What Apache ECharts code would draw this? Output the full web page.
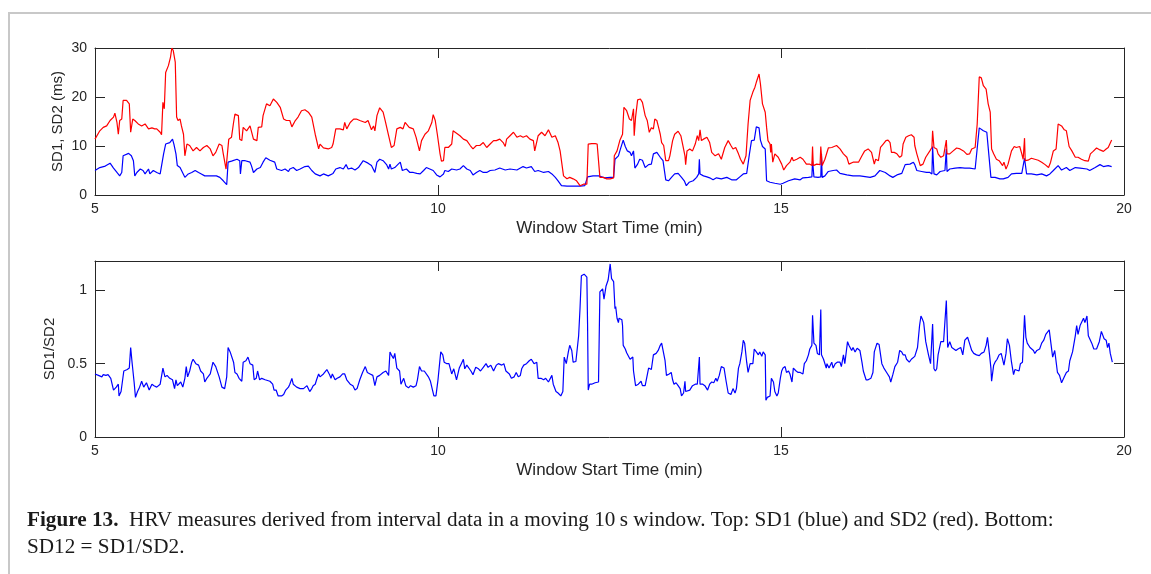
<!DOCTYPE html>
<html>
<head>
<meta charset="utf-8">
<script src="https://cdn.jsdelivr.net/npm/echarts@6/dist/echarts.min.js"></script>
<style>
  html, body { margin: 0; padding: 0; background: #fff; }
  #chart { width: 1151px; height: 574px; }
</style>
</head>
<body>
<div id="chart"></div>
<script>
// tick positions
const xTicks = [5, 10, 15, 20];
const topTicks = [0, 10, 20, 30];
const bottomTicks = [0, 0.5, 1];

// SD2 (red), ms, [minute, value]
const sd2 = [
  [5.00,11.4],[5.07,13.1],[5.12,13.8],[5.17,14.1],[5.22,15.2],[5.27,15.9],[5.29,16.7],[5.32,14.8],[5.34,12.4],[5.36,15.2],
  [5.39,15.5],[5.41,19.3],[5.46,19.3],[5.50,18.6],[5.52,12.8],[5.55,15.5],[5.58,15.2],[5.63,14.5],[5.68,14.1],[5.73,14.5],
  [5.78,13.5],[5.83,13.7],[5.87,13.5],[5.90,13.5],[5.95,12.8],[5.97,12.3],[5.99,18.9],[6.01,17.6],[6.03,25.0],[6.05,25.0],
  [6.07,26.4],[6.10,28.1],[6.12,30.0],[6.14,29.5],[6.17,27.1],[6.19,15.9],[6.21,15.2],[6.24,15.5],[6.26,14.1],[6.29,12.4],
  [6.31,8.0],[6.34,10.4],[6.38,10.1],[6.43,9.0],[6.48,9.7],[6.53,9.0],[6.58,9.7],[6.63,10.1],[6.68,9.4],[6.72,8.0],
  [6.76,8.7],[6.81,10.4],[6.85,10.1],[6.87,8.4],[6.91,5.3],[6.93,5.3],[6.95,11.4],[6.99,11.8],[7.02,14.8],[7.04,16.5],
  [7.09,16.2],[7.11,11.4],[7.14,11.1],[7.16,13.8],[7.21,13.1],[7.26,14.1],[7.31,11.4],[7.36,11.1],[7.38,13.8],[7.43,13.9],
  [7.45,16.2],[7.50,18.6],[7.55,18.2],[7.60,19.6],[7.65,18.9],[7.70,17.9],[7.75,15.5],[7.79,15.2],[7.84,15.2],[7.87,13.9],
  [7.92,15.2],[7.96,15.9],[8.01,17.2],[8.06,17.4],[8.11,16.9],[8.16,15.9],[8.21,12.4],[8.26,9.4],[8.28,10.4],[8.33,9.6],
  [8.40,9.4],[8.45,9.7],[8.47,10.4],[8.51,13.5],[8.57,13.5],[8.62,13.3],[8.64,14.8],[8.67,13.5],[8.72,14.8],[8.77,15.5],
  [8.81,15.5],[8.86,15.2],[8.94,14.8],[8.98,15.2],[9.03,13.3],[9.06,14.1],[9.08,13.1],[9.11,16.2],[9.15,17.8],[9.20,16.9],
  [9.23,15.2],[9.28,12.1],[9.32,9.7],[9.36,10.1],[9.40,13.5],[9.45,13.8],[9.49,13.5],[9.52,14.8],[9.54,15.2],[9.58,13.8],
  [9.64,13.5],[9.68,11.8],[9.73,9.0],[9.76,11.1],[9.81,12.4],[9.86,13.1],[9.91,14.8],[9.93,16.4],[9.96,15.2],[9.99,12.4],
  [10.03,8.4],[10.05,6.9],[10.08,7.0],[10.10,9.7],[10.15,9.7],[10.20,10.4],[10.22,13.1],[10.25,12.8],[10.27,13.1],[10.32,12.1],
  [10.37,11.4],[10.42,11.1],[10.47,10.1],[10.51,9.4],[10.56,10.1],[10.61,10.1],[10.66,10.7],[10.71,9.7],[10.76,10.4],[10.81,11.1],
  [10.85,11.1],[10.90,11.4],[10.95,10.7],[10.98,9.9],[11.00,11.4],[11.05,12.1],[11.10,12.8],[11.15,11.8],[11.20,12.1],[11.24,11.8],
  [11.29,12.1],[11.34,11.4],[11.39,11.1],[11.41,9.0],[11.46,12.1],[11.51,12.8],[11.56,12.1],[11.61,13.3],[11.66,11.8],[11.71,12.1],
  [11.75,10.7],[11.78,9.0],[11.83,3.9],[11.88,3.3],[11.92,3.6],[11.97,3.3],[12.02,2.9],[12.07,1.9],[12.12,2.2],[12.17,2.2],
  [12.19,10.4],[12.24,10.5],[12.29,10.5],[12.32,10.4],[12.36,3.6],[12.41,3.6],[12.46,3.3],[12.51,3.3],[12.56,3.5],[12.57,8.0],
  [12.59,8.0],[12.61,9.0],[12.65,11.1],[12.69,12.4],[12.71,17.9],[12.75,17.2],[12.79,15.5],[12.82,15.2],[12.85,17.6],[12.86,12.1],
  [12.88,15.9],[12.91,19.4],[12.95,19.6],[12.98,18.9],[13.02,16.2],[13.05,15.2],[13.08,12.8],[13.11,13.7],[13.14,13.5],[13.16,15.5],
  [13.19,15.2],[13.21,14.1],[13.24,12.4],[13.26,10.7],[13.29,10.1],[13.32,7.0],[13.36,7.0],[13.38,8.0],[13.42,11.1],[13.45,12.4],
  [13.50,13.0],[13.54,12.1],[13.57,10.1],[13.60,8.0],[13.61,6.2],[13.63,9.0],[13.67,9.4],[13.71,9.0],[13.75,10.4],[13.78,12.1],
  [13.80,11.1],[13.82,13.3],[13.84,11.1],[13.87,11.4],[13.92,11.8],[13.96,10.7],[13.99,8.7],[14.04,8.0],[14.09,8.4],[14.13,7.3],
  [14.18,9.7],[14.23,11.1],[14.27,10.1],[14.30,9.4],[14.34,9.7],[14.38,8.4],[14.41,7.3],[14.45,6.3],[14.49,8.0],[14.52,14.5],
  [14.55,19.3],[14.59,21.0],[14.62,22.0],[14.64,23.0],[14.68,24.7],[14.70,22.7],[14.73,18.6],[14.77,16.9],[14.79,13.8],[14.81,11.1],
  [14.84,10.4],[14.85,8.7],[14.86,10.4],[14.88,6.7],[14.91,8.4],[14.96,7.7],[15.01,6.3],[15.04,5.1],[15.08,6.0],[15.13,6.7],
  [15.16,7.7],[15.18,7.0],[15.23,7.3],[15.28,7.7],[15.32,7.3],[15.37,6.3],[15.42,6.3],[15.45,6.0],[15.46,9.9],[15.47,6.0],
  [15.52,6.3],[15.57,6.2],[15.58,9.9],[15.60,6.0],[15.64,7.3],[15.69,9.6],[15.74,9.7],[15.81,10.1],[15.86,9.4],[15.91,8.4],
  [15.96,7.7],[15.99,6.3],[16.05,6.7],[16.13,6.7],[16.18,8.0],[16.22,9.0],[16.27,9.4],[16.32,8.7],[16.36,6.3],[16.38,7.3],
  [16.42,7.0],[16.45,9.7],[16.49,10.4],[16.53,11.1],[16.56,11.2],[16.59,10.7],[16.61,8.7],[16.65,8.7],[16.69,8.4],[16.73,7.7],
  [16.76,8.0],[16.78,10.4],[16.82,11.8],[16.86,12.1],[16.90,12.3],[16.94,11.8],[16.95,10.1],[16.98,8.4],[17.03,6.0],[17.07,6.3],
  [17.11,7.7],[17.17,9.0],[17.20,9.7],[17.21,13.1],[17.23,9.7],[17.27,9.4],[17.29,8.4],[17.33,7.7],[17.37,8.0],[17.39,8.4],
  [17.41,11.2],[17.42,8.4],[17.46,8.4],[17.51,9.0],[17.56,9.6],[17.61,9.4],[17.66,9.0],[17.71,8.3],[17.75,8.4],[17.78,9.4],
  [17.83,9.7],[17.86,14.5],[17.89,24.1],[17.92,23.9],[17.95,22.3],[17.99,21.6],[18.02,18.6],[18.05,16.9],[18.07,9.4],[18.10,8.4],
  [18.14,7.3],[18.18,7.0],[18.23,6.0],[18.25,6.7],[18.28,5.3],[18.31,6.3],[18.36,9.0],[18.40,9.9],[18.43,9.7],[18.48,9.9],
  [18.51,8.4],[18.53,7.3],[18.55,11.6],[18.56,7.0],[18.60,7.1],[18.65,7.5],[18.70,7.3],[18.75,7.1],[18.80,6.7],[18.85,6.2],
  [18.90,5.6],[18.93,6.7],[18.97,9.0],[19.01,9.4],[19.04,14.5],[19.09,14.1],[19.13,13.3],[19.16,13.1],[19.20,9.9],[19.24,9.0],
  [19.29,7.7],[19.33,7.7],[19.38,7.3],[19.43,7.0],[19.48,6.9],[19.51,8.4],[19.55,8.9],[19.60,9.6],[19.65,9.2],[19.70,8.9],
  [19.74,9.4],[19.77,9.7],[19.82,11.2]
];

// SD1 (blue), ms, [minute, value]
const sd1 = [
  [5.00,5.0],[5.07,5.6],[5.15,5.9],[5.22,6.5],[5.27,5.5],[5.32,4.6],[5.36,3.9],[5.39,4.6],[5.41,8.0],[5.49,8.5],
  [5.53,8.0],[5.56,7.0],[5.58,3.9],[5.61,4.6],[5.66,5.3],[5.70,5.0],[5.73,4.3],[5.78,5.3],[5.80,4.3],[5.85,5.0],
  [5.90,4.6],[5.95,4.3],[5.97,4.3],[6.00,8.4],[6.02,8.4],[6.03,10.4],[6.09,10.7],[6.13,11.4],[6.15,10.4],[6.18,8.4],
  [6.20,6.0],[6.24,5.6],[6.26,5.3],[6.31,3.6],[6.36,4.3],[6.41,4.6],[6.46,5.0],[6.51,4.6],[6.55,4.3],[6.60,3.9],
  [6.65,3.9],[6.70,3.9],[6.77,3.9],[6.82,3.6],[6.87,2.9],[6.92,2.1],[6.94,6.7],[6.99,6.9],[7.07,7.3],[7.11,7.0],
  [7.12,4.3],[7.14,7.0],[7.19,7.0],[7.26,6.7],[7.28,6.0],[7.31,4.6],[7.36,5.3],[7.41,5.6],[7.45,6.7],[7.49,7.6],
  [7.55,7.1],[7.62,6.7],[7.65,5.3],[7.72,5.0],[7.77,5.3],[7.82,4.8],[7.84,5.3],[7.89,5.6],[7.94,5.0],[7.99,5.3],
  [8.06,5.8],[8.11,5.9],[8.16,5.0],[8.21,4.3],[8.28,3.9],[8.33,4.3],[8.40,3.9],[8.47,4.4],[8.51,5.3],[8.57,5.6],
  [8.62,5.3],[8.66,6.2],[8.69,5.3],[8.74,5.5],[8.79,5.1],[8.84,5.6],[8.91,7.0],[8.98,6.5],[9.03,6.0],[9.08,4.6],
  [9.11,6.7],[9.15,7.3],[9.20,7.0],[9.25,6.2],[9.28,5.3],[9.30,6.3],[9.32,5.3],[9.37,5.6],[9.42,6.3],[9.45,6.7],
  [9.48,5.0],[9.54,5.3],[9.59,4.6],[9.64,4.6],[9.69,4.4],[9.74,4.3],[9.79,5.0],[9.83,5.6],[9.88,5.3],[9.93,5.0],
  [9.98,4.1],[10.03,3.7],[10.08,4.3],[10.10,5.0],[10.15,4.8],[10.20,5.3],[10.22,5.6],[10.27,5.1],[10.32,5.3],[10.37,6.0],
  [10.42,5.3],[10.47,5.0],[10.51,4.1],[10.56,4.6],[10.61,5.0],[10.66,4.6],[10.71,4.6],[10.76,5.0],[10.83,5.1],[10.90,5.5],
  [10.98,5.1],[11.05,5.3],[11.15,5.1],[11.24,5.8],[11.29,5.5],[11.36,5.8],[11.41,4.8],[11.46,5.0],[11.54,4.6],[11.61,4.8],
  [11.66,4.3],[11.71,3.6],[11.75,2.9],[11.80,1.9],[11.88,1.8],[11.97,1.8],[12.07,1.8],[12.14,1.9],[12.18,3.7],[12.26,3.9],
  [12.34,3.9],[12.36,3.6],[12.43,3.5],[12.51,3.6],[12.56,3.6],[12.58,7.3],[12.63,8.0],[12.66,9.4],[12.70,11.2],[12.73,9.9],
  [12.76,9.0],[12.80,8.7],[12.82,8.0],[12.85,9.0],[12.87,5.5],[12.91,6.3],[12.94,7.3],[12.98,7.1],[13.02,5.6],[13.07,6.2],
  [13.11,6.3],[13.14,8.4],[13.19,8.7],[13.24,7.7],[13.28,7.0],[13.32,3.1],[13.36,2.9],[13.41,3.7],[13.45,4.3],[13.50,4.4],
  [13.55,3.6],[13.59,2.9],[13.62,1.9],[13.66,2.6],[13.72,2.9],[13.77,3.6],[13.80,4.3],[13.81,7.3],[13.82,4.3],[13.87,3.9],
  [13.92,3.7],[13.96,3.5],[14.01,3.1],[14.06,3.5],[14.13,3.3],[14.21,3.6],[14.28,3.1],[14.35,3.1],[14.40,3.7],[14.45,4.3],
  [14.50,4.4],[14.54,8.4],[14.57,11.1],[14.61,11.2],[14.64,13.9],[14.68,13.7],[14.70,11.2],[14.73,9.9],[14.77,9.4],[14.79,2.9],
  [14.84,2.6],[14.91,2.4],[14.99,2.2],[15.03,2.4],[15.11,2.9],[15.20,3.3],[15.28,3.1],[15.32,3.5],[15.40,3.6],[15.45,3.7],
  [15.46,7.0],[15.48,3.7],[15.54,3.6],[15.58,3.7],[15.59,8.4],[15.60,3.6],[15.64,3.9],[15.69,4.8],[15.76,5.0],[15.81,5.1],
  [15.86,4.4],[15.96,4.1],[16.05,3.9],[16.15,3.9],[16.25,3.7],[16.30,3.6],[16.37,3.9],[16.44,5.0],[16.52,4.6],[16.59,3.9],
  [16.63,3.6],[16.69,4.1],[16.76,4.4],[16.78,4.4],[16.81,6.2],[16.88,6.3],[16.93,6.7],[16.95,6.2],[16.98,5.0],[17.05,4.8],
  [17.12,4.6],[17.17,4.6],[17.20,4.3],[17.21,9.9],[17.23,4.3],[17.27,4.1],[17.32,4.8],[17.39,5.0],[17.41,9.4],[17.42,4.8],
  [17.46,5.3],[17.54,5.5],[17.61,5.6],[17.68,5.5],[17.75,5.5],[17.83,5.3],[17.85,5.6],[17.89,13.7],[17.95,13.1],[18.00,12.8],
  [18.02,12.4],[18.06,3.6],[18.12,3.6],[18.19,3.3],[18.24,3.3],[18.31,3.6],[18.36,4.3],[18.43,4.4],[18.51,4.4],[18.55,7.5],
  [18.58,4.3],[18.65,4.3],[18.73,4.1],[18.80,4.3],[18.87,3.9],[18.92,4.3],[18.97,5.0],[19.04,6.0],[19.09,5.1],[19.16,5.6],
  [19.21,5.0],[19.29,5.6],[19.36,5.5],[19.46,5.3],[19.50,5.0],[19.58,5.6],[19.65,6.2],[19.70,5.8],[19.77,6.0],[19.82,5.8]
];

// SD1/SD2 ratio, [minute, value]
const sd12 = [
  [5.00,0.43],[5.05,0.42],[5.10,0.41],[5.12,0.425],[5.16,0.42],[5.19,0.425],[5.23,0.40],[5.27,0.32],[5.31,0.34],[5.34,0.36],
  [5.35,0.28],[5.38,0.31],[5.40,0.32],[5.42,0.45],[5.47,0.46],[5.50,0.47],[5.52,0.61],[5.54,0.51],[5.57,0.375],[5.59,0.27],
  [5.62,0.31],[5.65,0.34],[5.68,0.38],[5.71,0.34],[5.75,0.37],[5.79,0.32],[5.83,0.36],[5.86,0.35],[5.90,0.34],[5.95,0.36],
  [5.99,0.47],[6.02,0.41],[6.05,0.42],[6.09,0.40],[6.13,0.39],[6.16,0.33],[6.18,0.39],[6.20,0.35],[6.21,0.34],[6.25,0.375],
  [6.28,0.34],[6.31,0.40],[6.33,0.48],[6.35,0.41],[6.38,0.45],[6.41,0.51],[6.43,0.53],[6.47,0.50],[6.51,0.49],[6.54,0.45],
  [6.58,0.43],[6.60,0.375],[6.63,0.40],[6.68,0.43],[6.72,0.51],[6.76,0.48],[6.78,0.49],[6.81,0.41],[6.85,0.34],[6.87,0.33],
  [6.89,0.33],[6.92,0.41],[6.94,0.61],[6.97,0.58],[6.99,0.58],[7.02,0.51],[7.04,0.44],[7.07,0.43],[7.10,0.40],[7.14,0.38],
  [7.16,0.51],[7.20,0.52],[7.23,0.545],[7.26,0.50],[7.30,0.49],[7.32,0.39],[7.35,0.40],[7.37,0.45],[7.40,0.39],[7.43,0.40],
  [7.45,0.41],[7.48,0.39],[7.50,0.38],[7.55,0.38],[7.59,0.36],[7.61,0.32],[7.64,0.32],[7.67,0.28],[7.72,0.28],[7.75,0.29],
  [7.78,0.32],[7.82,0.34],[7.84,0.36],[7.87,0.40],[7.89,0.36],[7.94,0.34],[7.99,0.33],[8.04,0.33],[8.09,0.35],[8.11,0.34],
  [8.13,0.31],[8.16,0.33],[8.18,0.35],[8.21,0.36],[8.23,0.39],[8.26,0.43],[8.28,0.41],[8.30,0.40],[8.33,0.43],[8.38,0.46],
  [8.42,0.425],[8.44,0.40],[8.46,0.43],[8.50,0.39],[8.53,0.40],[8.57,0.41],[8.61,0.43],[8.64,0.43],[8.67,0.39],[8.72,0.36],
  [8.76,0.35],[8.79,0.32],[8.82,0.33],[8.86,0.39],[8.90,0.44],[8.94,0.48],[8.97,0.44],[9.01,0.43],[9.05,0.42],[9.08,0.35],
  [9.11,0.41],[9.15,0.42],[9.20,0.44],[9.24,0.45],[9.28,0.42],[9.30,0.58],[9.32,0.56],[9.35,0.535],[9.37,0.57],[9.40,0.47],
  [9.44,0.45],[9.46,0.36],[9.48,0.36],[9.50,0.40],[9.53,0.35],[9.57,0.335],[9.60,0.35],[9.64,0.34],[9.68,0.35],[9.70,0.39],
  [9.73,0.48],[9.76,0.45],[9.80,0.45],[9.82,0.44],[9.86,0.41],[9.89,0.38],[9.92,0.32],[9.94,0.28],[9.97,0.28],[10.00,0.39],
  [10.04,0.58],[10.07,0.56],[10.09,0.51],[10.13,0.50],[10.16,0.50],[10.20,0.43],[10.23,0.465],[10.27,0.39],[10.31,0.47],[10.34,0.50],
  [10.37,0.53],[10.39,0.465],[10.42,0.49],[10.44,0.49],[10.48,0.45],[10.51,0.425],[10.55,0.475],[10.59,0.465],[10.62,0.45],[10.66,0.475],
  [10.70,0.50],[10.73,0.475],[10.77,0.49],[10.81,0.45],[10.85,0.49],[10.88,0.50],[10.93,0.49],[10.96,0.50],[10.99,0.45],[11.04,0.43],
  [11.07,0.40],[11.11,0.41],[11.14,0.44],[11.17,0.41],[11.20,0.42],[11.22,0.465],[11.25,0.49],[11.29,0.50],[11.33,0.52],[11.36,0.53],
  [11.40,0.50],[11.44,0.51],[11.46,0.40],[11.50,0.40],[11.54,0.39],[11.57,0.40],[11.61,0.375],[11.66,0.42],[11.68,0.36],[11.72,0.31],
  [11.75,0.30],[11.79,0.28],[11.82,0.31],[11.84,0.545],[11.87,0.50],[11.90,0.58],[11.92,0.625],[11.95,0.59],[11.97,0.51],[12.01,0.515],
  [12.05,0.69],[12.07,0.875],[12.09,1.10],[12.13,1.11],[12.17,1.09],[12.18,0.78],[12.19,0.32],[12.21,0.36],[12.24,0.36],[12.29,0.37],
  [12.34,0.375],[12.36,0.99],[12.40,1.01],[12.42,0.94],[12.45,1.03],[12.48,1.07],[12.51,1.18],[12.53,1.08],[12.56,1.06],[12.58,0.875],
  [12.59,0.89],[12.61,0.81],[12.63,0.78],[12.64,0.81],[12.68,0.80],[12.69,0.76],[12.70,0.625],[12.73,0.60],[12.75,0.575],[12.77,0.58],
  [12.80,0.53],[12.82,0.53],[12.84,0.545],[12.85,0.45],[12.86,0.46],[12.88,0.35],[12.92,0.36],[12.96,0.38],[12.98,0.35],[13.02,0.35],
  [13.04,0.36],[13.07,0.47],[13.09,0.47],[13.11,0.46],[13.14,0.56],[13.18,0.57],[13.21,0.59],[13.24,0.625],[13.26,0.64],[13.28,0.64],
  [13.31,0.52],[13.33,0.42],[13.37,0.43],[13.40,0.44],[13.42,0.39],[13.44,0.36],[13.47,0.37],[13.50,0.35],[13.53,0.33],[13.55,0.28],
  [13.58,0.30],[13.60,0.38],[13.61,0.31],[13.63,0.30],[13.67,0.32],[13.71,0.35],[13.75,0.36],[13.78,0.36],[13.81,0.545],[13.82,0.36],
  [13.86,0.36],[13.89,0.35],[13.93,0.32],[13.96,0.36],[13.99,0.375],[14.02,0.37],[14.05,0.40],[14.07,0.38],[14.10,0.42],[14.13,0.48],
  [14.17,0.47],[14.20,0.38],[14.23,0.30],[14.27,0.29],[14.30,0.33],[14.33,0.30],[14.35,0.33],[14.38,0.47],[14.40,0.50],[14.43,0.58],
  [14.45,0.66],[14.47,0.64],[14.50,0.51],[14.52,0.44],[14.55,0.50],[14.59,0.50],[14.61,0.60],[14.64,0.58],[14.67,0.56],[14.69,0.58],
  [14.72,0.55],[14.74,0.58],[14.77,0.56],[14.78,0.25],[14.80,0.27],[14.84,0.28],[14.86,0.40],[14.89,0.375],[14.91,0.31],[14.94,0.28],
  [14.96,0.30],[14.99,0.40],[15.01,0.45],[15.03,0.47],[15.06,0.48],[15.08,0.44],[15.11,0.45],[15.13,0.43],[15.16,0.375],[15.18,0.47],
  [15.22,0.45],[15.25,0.44],[15.28,0.44],[15.32,0.43],[15.34,0.50],[15.37,0.52],[15.40,0.56],[15.42,0.60],[15.45,0.625],[15.46,0.83],
  [15.48,0.64],[15.51,0.625],[15.53,0.57],[15.56,0.56],[15.58,0.87],[15.59,0.56],[15.62,0.53],[15.66,0.47],[15.67,0.50],[15.70,0.47],
  [15.74,0.51],[15.76,0.47],[15.79,0.50],[15.82,0.51],[15.86,0.51],[15.88,0.48],[15.91,0.56],[15.93,0.50],[15.97,0.65],[15.99,0.625],
  [16.03,0.59],[16.05,0.61],[16.08,0.58],[16.11,0.605],[16.15,0.59],[16.18,0.51],[16.20,0.45],[16.24,0.39],[16.27,0.39],[16.31,0.40],
  [16.34,0.44],[16.36,0.58],[16.38,0.57],[16.40,0.64],[16.43,0.63],[16.47,0.50],[16.50,0.47],[16.54,0.44],[16.58,0.41],[16.60,0.375],
  [16.63,0.425],[16.66,0.48],[16.70,0.51],[16.73,0.59],[16.76,0.58],[16.78,0.56],[16.81,0.56],[16.83,0.53],[16.87,0.51],[16.90,0.53],
  [16.95,0.55],[16.99,0.61],[17.02,0.76],[17.04,0.825],[17.06,0.805],[17.08,0.78],[17.11,0.65],[17.15,0.56],[17.18,0.50],[17.20,0.49],
  [17.21,0.77],[17.23,0.465],[17.25,0.45],[17.27,0.465],[17.29,0.56],[17.33,0.65],[17.37,0.65],[17.39,0.64],[17.41,0.93],[17.43,0.61],
  [17.46,0.65],[17.49,0.61],[17.51,0.61],[17.55,0.59],[17.58,0.60],[17.62,0.61],[17.65,0.56],[17.68,0.66],[17.72,0.68],[17.74,0.65],
  [17.78,0.59],[17.81,0.57],[17.85,0.56],[17.89,0.555],[17.92,0.57],[17.96,0.58],[17.99,0.625],[18.01,0.68],[18.04,0.56],[18.06,0.47],
  [18.07,0.38],[18.10,0.49],[18.12,0.51],[18.15,0.53],[18.18,0.56],[18.21,0.57],[18.23,0.56],[18.25,0.49],[18.28,0.57],[18.30,0.67],
  [18.33,0.625],[18.36,0.51],[18.39,0.425],[18.41,0.46],[18.43,0.45],[18.47,0.45],[18.49,0.50],[18.52,0.51],[18.55,0.83],[18.57,0.68],
  [18.59,0.64],[18.63,0.61],[18.68,0.59],[18.70,0.57],[18.73,0.59],[18.77,0.60],[18.80,0.64],[18.83,0.66],[18.86,0.70],[18.88,0.69],
  [18.91,0.73],[18.93,0.72],[18.96,0.545],[18.99,0.59],[19.03,0.44],[19.06,0.42],[19.09,0.37],[19.13,0.41],[19.16,0.44],[19.19,0.45],
  [19.21,0.52],[19.25,0.58],[19.29,0.69],[19.31,0.76],[19.33,0.70],[19.36,0.76],[19.38,0.77],[19.41,0.81],[19.43,0.78],[19.46,0.825],
  [19.48,0.69],[19.50,0.67],[19.53,0.64],[19.56,0.60],[19.60,0.60],[19.64,0.65],[19.67,0.72],[19.71,0.67],[19.74,0.66],[19.76,0.61],
  [19.78,0.64],[19.80,0.57],[19.83,0.51]
];

const captionBold = 'Figure 13.';
const captionLine1 = '  HRV measures derived from interval data in a moving 10\u2009s window. Top: SD1 (blue) and SD2 (red). Bottom:';
const captionLine2 = 'SD12 = SD1/SD2.';

(function(){
  const ink = '#262626';
  const sans = '"Liberation Sans", Arial, sans-serif';
  const serif = '"Liberation Serif", "Times New Roman", serif';
  const chart = echarts.init(document.getElementById('chart'), null, { renderer: 'canvas' });

  const lineStyle = { color: ink, width: 1 };
  const tick = vals => ({ inside: true, length: 10, lineStyle, customValues: vals });

  function xPair(gi){
    const base = { type: 'value', gridIndex: gi, min: 5, max: 20, interval: 5, splitLine: { show: false }, axisLine: { onZero: false, lineStyle } };
    return [
      Object.assign({}, base, {
        position: 'bottom',
        name: 'Window Start Time (min)', nameLocation: 'middle', nameGap: 25, nameMoveOverlap: false,
        nameTextStyle: { fontFamily: sans, fontSize: 17, color: ink },
        axisTick: tick(xTicks),
        axisLabel: { customValues: xTicks, margin: 7, fontFamily: sans, fontSize: 14, color: ink }
      }),
      Object.assign({}, base, { position: 'top', axisTick: tick(xTicks), axisLabel: { show: false } })
    ];
  }

  function yPair(gi, max, interval, ticks, name, gap){
    const base = { type: 'value', gridIndex: gi, min: 0, max, interval, splitLine: { show: false }, axisLine: { show: true, onZero: false, lineStyle } };
    return [
      Object.assign({}, base, {
        position: 'left',
        name, nameLocation: 'middle', nameGap: gap, nameMoveOverlap: false,
        nameTextStyle: { fontFamily: sans, fontSize: 15, color: ink },
        axisTick: tick(ticks),
        axisLabel: { customValues: ticks, margin: 8, fontFamily: sans, fontSize: 14, color: ink }
      }),
      Object.assign({}, base, { position: 'right', axisTick: tick(ticks), axisLabel: { show: false } })
    ];
  }

  const line = (data, color, xi, yi) => ({
    type: 'line', data, xAxisIndex: xi, yAxisIndex: yi,
    showSymbol: false, symbol: 'none', animation: false,
    lineStyle: { color, width: 1.2 }
  });

  chart.setOption({
    backgroundColor: '#fff',
    animation: false,
    grid: [
      { left: 95, top: 48, width: 1029, height: 147 },
      { left: 95, top: 261, width: 1029, height: 176 }
    ],
    xAxis: [...xPair(0), ...xPair(1)],
    yAxis: [...yPair(0, 30, 10, topTicks, 'SD1, SD2 (ms)', 30), ...yPair(1, 1.2, 0.5, bottomTicks, 'SD1/SD2', 38)],
    series: [
      line(sd1, '#0000ff', 0, 0),
      line(sd2, '#ff0000', 0, 0),
      line(sd12, '#0000ff', 2, 2)
    ],
    graphic: [
      { type: 'rect', silent: true, shape: { x: 9, y: 13, width: 1400, height: 800 },
        style: { fill: 'none', stroke: '#c8c8c8', lineWidth: 2 } },
      // caption set in a serif face, stretched a little to the original line length
      { type: 'text', x: 27, y: 511, scaleX: 1.06, silent: true,
        style: {
          text: '{b|' + captionBold + '}' + captionLine1,
          font: '20px ' + serif, fill: '#1a1a1a',
          rich: { b: { fontWeight: 'bold', fontFamily: serif, fontSize: 20, fill: '#1a1a1a' } }
        } },
      { type: 'text', x: 27, y: 538, scaleX: 1.06, silent: true,
        style: { text: captionLine2, font: '20px ' + serif, fill: '#1a1a1a' } }
    ]
  });
})();
</script>
</body>
</html>
